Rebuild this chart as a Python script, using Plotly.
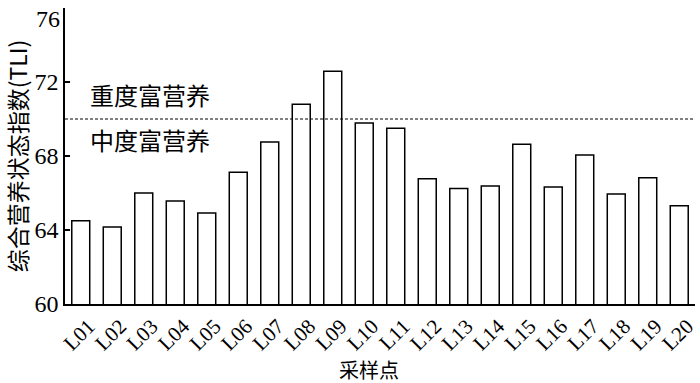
import plotly.graph_objects as go

sites = ["L01","L02","L03","L04","L05","L06","L07","L08","L09","L10",
         "L11","L12","L13","L14","L15","L16","L17","L18","L19","L20"]
tli = [64.5, 64.16, 66.0, 65.57, 64.92, 67.12, 68.76, 70.8, 72.58, 69.78,
       69.5, 66.77, 66.25, 66.38, 68.63, 66.32, 68.05, 65.95, 66.83, 65.31]
threshold = 70
y_ticks = [60, 64, 68, 72, 76]

serif = "Liberation Serif, Times New Roman, serif"
cjk = "Noto Sans CJK SC"

fig = go.Figure()
fig.add_trace(go.Bar(
    x=sites, y=tli, base=0,
    marker=dict(color="white", line=dict(color="black", width=1.5)),
    width=0.57,
))

fig.add_shape(type="line", xref="paper", x0=0, x1=1, yref="y", y0=threshold, y1=threshold,
              line=dict(color="black", width=1, dash="3px,2px"))

fig.add_annotation(text="重度富营养", xref="paper", x=0.037, xanchor="left",
                   yref="y", y=71.35, showarrow=False,
                   font=dict(family=cjk, size=24, color="black"))
fig.add_annotation(text="中度富营养", xref="paper", x=0.037, xanchor="left",
                   yref="y", y=68.9, showarrow=False,
                   font=dict(family=cjk, size=24, color="black"))
fig.add_annotation(text="采样点", xref="paper", x=0.483, xanchor="center",
                   yref="paper", y=-0.222, yanchor="middle", showarrow=False,
                   font=dict(family=cjk, size=20, color="black"))
# top tick label (shifted down as in the reference, where it would be clipped)
fig.add_annotation(text=str(y_ticks[-1]), xref="paper", x=0, xanchor="right", xshift=-3,
                   yref="y", y=y_ticks[-1], yanchor="top", yshift=4, showarrow=False,
                   font=dict(family=serif, size=24, color="black"))

fig.update_layout(
    width=700, height=383,
    margin=dict(l=65, r=5, t=8, b=79),
    plot_bgcolor="white", paper_bgcolor="white",
    showlegend=False,
    xaxis=dict(
        range=[-0.5, 19.5],
        automargin=False,
        showline=True, linecolor="black", linewidth=1.5,
        ticks="", tickangle=-45,
        ticklabelshift=8,
        tickfont=dict(family=serif, size=21, color="black"),
        showgrid=False,
    ),
    yaxis=dict(
        range=[60, 76],
        automargin=False,
        tickvals=y_ticks,
        ticktext=[str(v) for v in y_ticks[:-1]] + [""],
        showline=True, linecolor="black", linewidth=1.5,
        ticks="inside", ticklen=5, tickcolor="black", tickwidth=1.5,
        tickfont=dict(family=serif, size=24, color="black"),
        title=dict(text="综合营养状态指数(TLI)", font=dict(family=cjk, size=23, color="black"), standoff=1),
        showgrid=False, zeroline=False,
    ),
)

fig.write_html("out.html", config={"displayModeBar": False},
               post_script="document.body.style.margin='0';document.body.style.overflow='hidden';")
